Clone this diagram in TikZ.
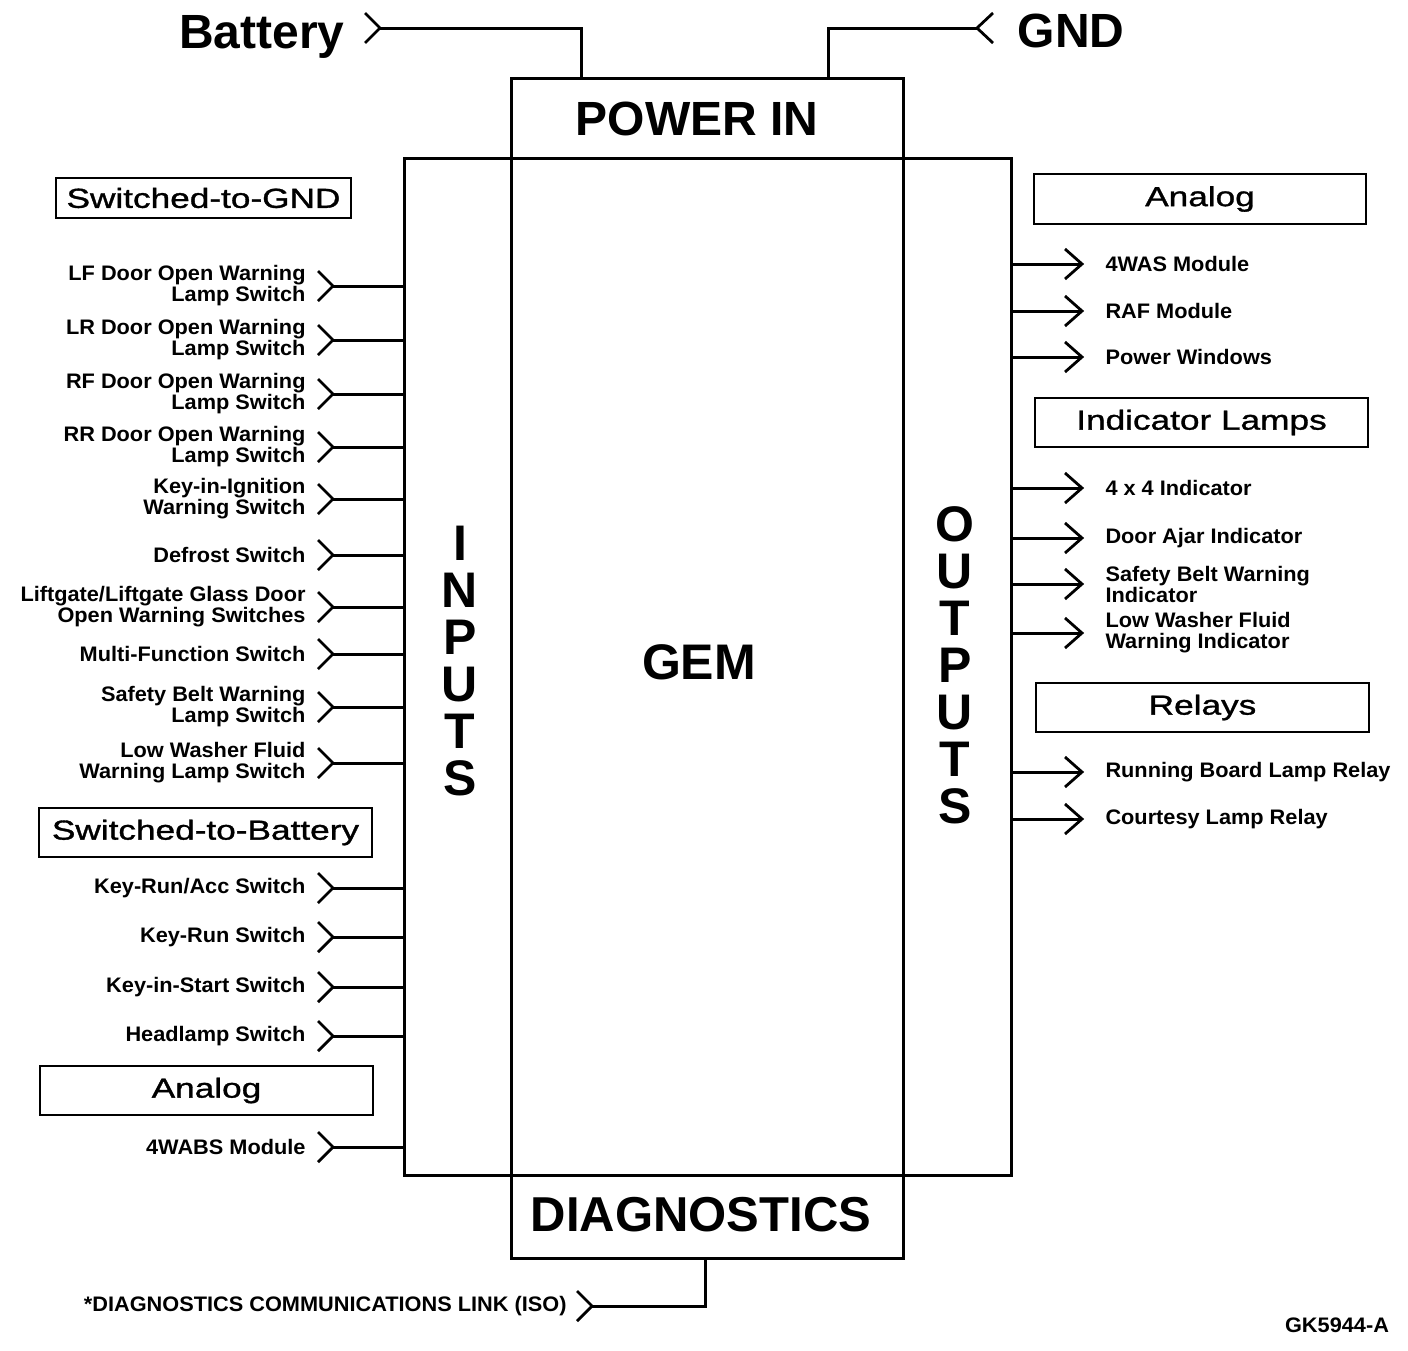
\documentclass[tikz,border=0pt]{standalone}
\usepackage{fontspec}
\setmainfont{Liberation Sans}
\newfontfamily\hdrfont[FakeStretch=1.28,FakeBold=1.2]{Liberation Sans}
\newfontfamily\lblfont[FakeStretch=1.035]{Liberation Sans}
\begin{document}
\begin{tikzpicture}[x=1pt,y=-1pt,line width=3pt,
  inlab/.style={anchor=east,align=right,inner sep=0pt,font=\lblfont\bfseries\fontsize{21}{21}\selectfont},
  outlab/.style={anchor=west,align=left,inner sep=0pt,font=\lblfont\bfseries\fontsize{21}{21}\selectfont},
  hdrbox/.style={draw,line width=2.6pt,inner sep=0pt,font=\hdrfont\fontsize{27.5}{30}\selectfont},
  bigtxt/.style={inner sep=0pt,font=\bfseries\fontsize{48}{48}\selectfont},
  vtxt/.style={inner sep=0pt,align=center,font=\bfseries\fontsize{50}{47}\selectfont},
  chev/.pic={\draw[line width=2.8pt] (-15,-15) -- (0,0) -- (-15,15);},
  chevOut/.pic={\draw[line width=2.8pt] (-17,-15) -- (0,0) -- (-17,15);},
  chevL/.pic={\draw[line width=2.8pt] (16,-15) -- (0,0) -- (16,15);}
]
\useasboundingbox (0,0) rectangle (1408,1350);
\fill[white] (0,0) rectangle (1408,1350);

% main boxes
\node[draw,minimum width=607pt,minimum height=1017pt,inner sep=0pt] (io) at (707.5,666.5) {};
\node[draw,minimum width=392pt,minimum height=1180pt,inner sep=0pt] (gem) at (707,668) {};
\node[bigtxt] (pwr) at (697,119) {POWER IN};
\node[bigtxt,font=\bfseries\fontsize{50}{50}\selectfont] (gemt) at (699,662) {GEM};
\node[bigtxt,font=\bfseries\fontsize{49}{49}\selectfont] (diag) at (701,1215) {DIAGNOSTICS};
\node[vtxt] (inp) at (460,661) {I\\N\\P\\U\\T\\S};
\node[vtxt] (outp) at (955,665) {O\\U\\T\\P\\U\\T\\S};

% power in
\node[bigtxt,anchor=base] (batt) at (262,48) {Battery};
\coordinate (bat) at (380,28);
\pic at (bat) {chev};
\coordinate (batin) at (581,78);
\draw[line join=miter] (bat) -| (batin);
\node[bigtxt,anchor=base] (gndt) at (1071,47) {GND};
\coordinate (gnd) at (977,28);
\pic at (gnd) {chevL};
\coordinate (gndin) at (828,78);
\draw[line join=miter] (gnd) -| (gndin);

% diagnostics link
\coordinate (diagout) at (705,1258);
\coordinate (dcl) at (592,1306);
\pic at (dcl) {chev};
\draw[line join=miter] (diagout) |- (dcl);
\node[inlab] (dcltxt) at (568,1306) {*DIAGNOSTICS COMMUNICATIONS LINK (ISO)};

% headers
\node[hdrbox,minimum width=295pt,minimum height=40pt] (swgnd) at (203.5,198) {Switched-to-GND};
\node[hdrbox,minimum width=333pt,minimum height=49pt] (swbat) at (205.5,832.5) {Switched-to-Battery};
\node[hdrbox,minimum width=333pt,minimum height=49pt] (anl) at (206.5,1090.5) {Analog};
\node[hdrbox,minimum width=332pt,minimum height=50pt] (anr) at (1200,199) {Analog};
\node[hdrbox,minimum width=333pt,minimum height=49pt] (ind) at (1201.5,422.5) {Indicator Lamps};
\node[hdrbox,minimum width=333pt,minimum height=49pt] (rel) at (1202.5,707.5) {Relays};

% inputs
\foreach \nm/\yy/\lbl in {
  1/286/{LF Door Open Warning\\Lamp Switch},
  2/340/{LR Door Open Warning\\Lamp Switch},
  3/394/{RF Door Open Warning\\Lamp Switch},
  4/447/{RR Door Open Warning\\Lamp Switch},
  5/499/{Key-in-Ignition\\Warning Switch},
  6/555/{Defrost Switch},
  7/607/{Liftgate/Liftgate Glass Door\\Open Warning Switches},
  8/654/{Multi-Function Switch},
  9/707/{Safety Belt Warning\\Lamp Switch},
  10/763/{Low Washer Fluid\\Warning Lamp Switch},
  11/888/{Key-Run/Acc Switch},
  12/937/{Key-Run Switch},
  13/987/{Key-in-Start Switch},
  14/1036/{Headlamp Switch},
  15/1147/{4WABS Module}}{
  \node[inlab] (it\nm) at (307,\yy) {\lbl};
  \coordinate (i\nm) at (333,\yy);
  \pic at (i\nm) {chev};
  \draw (i\nm) -- (i\nm -| io.west);
}

% outputs
\foreach \nm/\yy/\lbl in {
  1/264/{4WAS Module},
  2/311/{RAF Module},
  3/357/{Power Windows},
  4/488/{4 x 4 Indicator},
  5/538/{Door Ajar Indicator},
  6/584/{Safety Belt Warning\\Indicator},
  7/633/{Low Washer Fluid\\Warning Indicator},
  8/772/{Running Board Lamp Relay},
  9/819/{Courtesy Lamp Relay}}{
  \coordinate (o\nm) at (1082,\yy);
  \draw (o\nm -| io.east) -- (o\nm);
  \pic at (o\nm) {chevOut};
  \node[outlab] (ot\nm) at (1104,\yy) {\lbl};
}

\node[inlab,anchor=center] (code) at (1337,1325) {GK5944-A};
\end{tikzpicture}
\end{document}
